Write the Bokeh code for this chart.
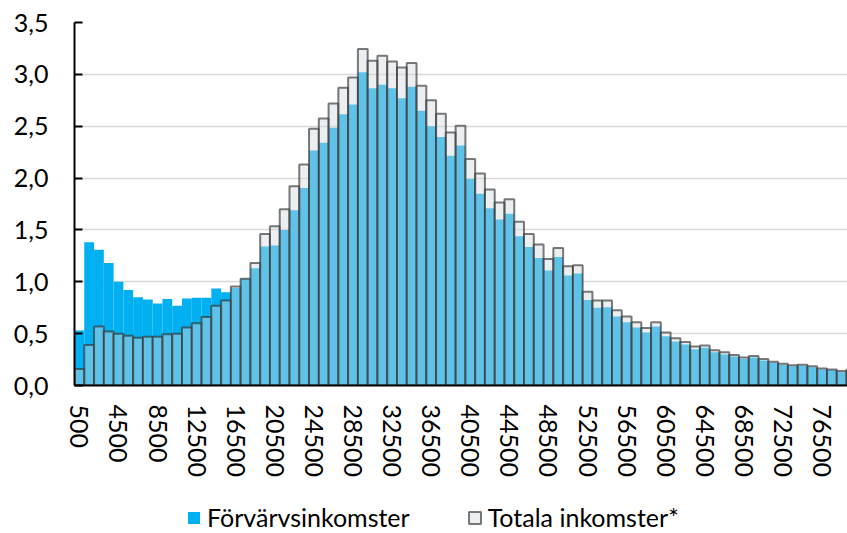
import math
from bokeh.plotting import figure
from bokeh.layouts import column
from bokeh.models import (Range1d, FixedTicker, CustomJSTickFormatter, Legend,
                          LegendItem, ColumnDataSource)
from bokeh.embed import file_html
from bokeh.resources import INLINE

# Income classes (SEK per month), one bar per 1000 kr class
income = list(range(500, 80500, 1000))

# Share of population (%) per income class
forvarv = [0.53, 1.38, 1.31, 1.18, 1.00, 0.92, 0.85, 0.83, 0.79, 0.835,
           0.77, 0.84, 0.845, 0.845, 0.935, 0.90, 0.94, 1.03, 1.13, 1.34,
           1.35, 1.50, 1.69, 1.905, 2.265, 2.34, 2.485, 2.615, 2.71, 3.02,
           2.865, 2.90, 2.865, 2.77, 2.88, 2.65, 2.50, 2.395, 2.215, 2.315,
           1.99, 1.85, 1.71, 1.60, 1.655, 1.44, 1.335, 1.23, 1.11, 1.24,
           1.06, 1.08, 0.825, 0.75, 0.755, 0.665, 0.61, 0.56, 0.51, 0.57,
           0.475, 0.425, 0.395, 0.35, 0.365, 0.32, 0.30, 0.28, 0.255, 0.27,
           0.24, 0.22, 0.20, 0.185, 0.19, 0.175, 0.155, 0.15, 0.13, 0.145]

totala = [0.16, 0.39, 0.57, 0.52, 0.50, 0.48, 0.46, 0.47, 0.47, 0.495,
          0.50, 0.56, 0.60, 0.66, 0.77, 0.82, 0.955, 1.03, 1.18, 1.46,
          1.535, 1.70, 1.92, 2.13, 2.475, 2.575, 2.72, 2.87, 2.97, 3.245,
          3.13, 3.18, 3.125, 3.065, 3.11, 2.89, 2.75, 2.62, 2.44, 2.505,
          2.185, 2.045, 1.89, 1.765, 1.795, 1.58, 1.46, 1.36, 1.22, 1.325,
          1.15, 1.16, 0.905, 0.82, 0.82, 0.725, 0.665, 0.61, 0.555, 0.61,
          0.51, 0.455, 0.42, 0.375, 0.385, 0.34, 0.32, 0.295, 0.27, 0.285,
          0.255, 0.23, 0.21, 0.195, 0.20, 0.185, 0.165, 0.155, 0.14, 0.155]

x_tick_values = [500, 4500, 8500, 12500, 16500, 20500, 24500, 28500, 32500, 36500,
                 40500, 44500, 48500, 52500, 56500, 60500, 64500, 68500, 72500, 76500]
y_tick_values = [0.0, 0.5, 1.0, 1.5, 2.0, 2.5, 3.0, 3.5]
series_names = ["Förvärvsinkomster", "Totala inkomster*"]

FONT = "Lato"
FS = "25px"
BLUE = dict(fill_color="#00B0F0", line_color=None)
GREY = dict(fill_color="#D2DCE1", fill_alpha=0.45,
            line_color="#333333", line_alpha=0.65, line_width=2)

LEG_H = 44

p = figure(width=847, height=533 - LEG_H, output_backend="svg", toolbar_location=None,
           x_range=Range1d(0, 79100), y_range=Range1d(0, 3.5),
           min_border_left=74, min_border_right=0, min_border_top=22,
           min_border_bottom=533 - LEG_H - 385)
p.outline_line_color = None
p.background_fill_color = "white"

src = ColumnDataSource(dict(x=income, f=forvarv, t=totala))
r1 = p.vbar(x="x", top="f", width=1000, source=src, **BLUE)
r2 = p.vbar(x="x", top="t", width=1000, source=src, **GREY)

# grid
p.xgrid.grid_line_color = None
p.ygrid.grid_line_color = "#D9D9D9"
p.ygrid.grid_line_width = 1.5

# y axis
ya = p.yaxis[0]
ya.ticker = FixedTicker(ticks=y_tick_values)
ya.formatter = CustomJSTickFormatter(code="return tick.toFixed(1).replace('.', ',')")
ya.axis_line_color = "black"
ya.axis_line_width = 2
ya.major_tick_in = 8
ya.major_tick_out = 0
ya.major_tick_line_color = "black"
ya.major_tick_line_width = 2
ya.minor_tick_line_color = None
ya.major_label_standoff = 26
ya.major_label_text_font = FONT
ya.major_label_text_font_size = FS
ya.major_label_text_color = "black"

# x axis
xa = p.xaxis[0]
xa.ticker = FixedTicker(ticks=x_tick_values)
xa.formatter = CustomJSTickFormatter(code="return tick.toFixed(0)")
xa.axis_line_color = "black"
xa.axis_line_width = 2
xa.major_tick_in = 0
xa.major_tick_out = 0
xa.minor_tick_line_color = None
xa.major_label_orientation = -math.pi / 2
xa.major_label_standoff = 19
xa.major_label_text_font = FONT
xa.major_label_text_font_size = FS
xa.major_label_text_color = "black"

# legend strip below the chart (frame aligned with the chart's frame)
q = figure(width=847, height=LEG_H, output_backend="svg", toolbar_location=None,
           x_axis_location=None, y_axis_location=None, min_border=0,
           x_range=Range1d(0, 1), y_range=Range1d(0, 1))
q.outline_line_color = None
q.xgrid.visible = False
q.ygrid.visible = False
legend_src = ColumnDataSource(dict(x=[float("nan")], top=[float("nan")]))
l1 = q.vbar(x="x", top="top", width=1, source=legend_src, **BLUE)
l2 = q.vbar(x="x", top="top", width=1, source=legend_src, **GREY)

legend = Legend(items=[LegendItem(label=series_names[0], renderers=[l1], index=0),
                       LegendItem(label=series_names[1], renderers=[l2], index=0)],
                location=(112, 1), orientation="horizontal",
                padding=0, margin=0, spacing=57, label_standoff=6,
                glyph_width=15, glyph_height=15,
                border_line_alpha=0, background_fill_alpha=0,
                label_text_font=FONT, label_text_font_size=FS,
                label_text_color="black")
q.add_layout(legend)

layout = column(p, q, spacing=0)
open("out.html", "w").write(file_html(layout, INLINE))
